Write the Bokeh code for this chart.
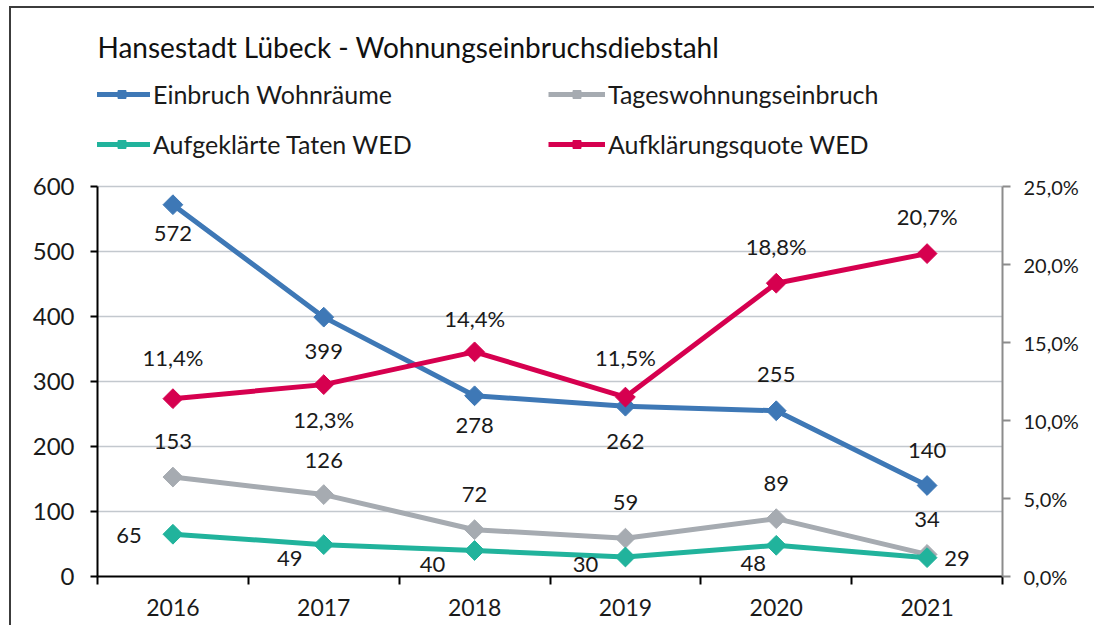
from bokeh.plotting import figure
from bokeh.models import Range1d, LinearAxis, FixedTicker, Legend, LegendItem, Label
from bokeh.core.properties import value
from bokeh.embed import file_html
from bokeh.resources import INLINE

# ---- data ----
chart_title = "Hansestadt Lübeck - Wohnungseinbruchsdiebstahl"
years = ["2016", "2017", "2018", "2019", "2020", "2021"]
einbruch = [572, 399, 278, 262, 255, 140]
tages = [153, 126, 72, 59, 89, 34]
aufgeklaert = [65, 49, 40, 30, 48, 29]
quote = [11.4, 12.3, 14.4, 11.5, 18.8, 20.7]
series_names = ["Einbruch Wohnräume", "Tageswohnungseinbruch",
                "Aufgeklärte Taten WED", "Aufklärungsquote WED"]
left_ticks = [0, 100, 200, 300, 400, 500, 600]
right_ticks = [0, 5, 10, 15, 20, 25]
LEFT_MAX = 600
RIGHT_MAX = 25

# ---- layout / styles (pixels) ----
FONT = "Lato"
FS = "22px"
colors = ["#3e78b6", "#a6abb1", "#21b39c", "#d6004f"]
off_einbruch = ([0] * 6, [29, 34, 30, 35, -36, -35])
off_tages = ([0] * 6, [-36, -34, -35, -36, -35, -35])
off_aufg = ([-44, -34, -42, -40, -23, 30], [1, 14, 14, 7, 18, 1])
off_quote = ([0] * 6, [-41, 35, -33, -40, -37, -37])

AXIS_H = 390      # pixel height of the value axes
FRAME_H = 568     # frame reaches up to the top so title/legend sit inside it
scale = FRAME_H / AXIS_H

def pct(v):
    return f"{v:.1f}".replace(".", ",") + "%"

xs = list(range(len(years)))

p = figure(width=1085, height=619,
           x_range=Range1d(-0.5, len(years) - 0.5), y_range=Range1d(0, LEFT_MAX * scale),
           output_backend="svg", toolbar_location=None, title_location=None,
           min_border_left=86, min_border_right=94, min_border_top=0, min_border_bottom=51,
           outline_line_color=None, background_fill_color="white", border_fill_color="white")
p.styles = {"border-top": "2px solid #3c3c3c", "border-left": "2px solid #3c3c3c",
            "margin-left": "9px", "margin-top": "6px"}
p.extra_y_ranges = {"pct": Range1d(0, RIGHT_MAX * scale)}

# x axis
xa = p.xaxis[0]
xa.ticker = FixedTicker(ticks=xs, minor_ticks=[x - 0.5 for x in xs] + [xs[-1] + 0.5])
xa.major_label_overrides = {x: y for x, y in zip(xs, years)}
xa.major_tick_line_color = None
xa.major_tick_out = 0
xa.major_tick_in = 0
xa.minor_tick_line_color = "black"
xa.minor_tick_line_width = 2
xa.minor_tick_out = 8
xa.minor_tick_in = 0
xa.axis_line_color = "black"
xa.axis_line_width = 2
xa.major_label_standoff = 14
xa.major_label_text_font = FONT
xa.major_label_text_font_size = "23px"
xa.major_label_text_color = "#1a1a1a"

# left axis
ya = p.yaxis[0]
ya.ticker = FixedTicker(ticks=left_ticks)
ya.bounds = (0, LEFT_MAX)
ya.axis_line_color = "black"
ya.axis_line_width = 2
ya.major_tick_line_color = "black"
ya.major_tick_line_width = 2
ya.major_tick_out = 7
ya.major_tick_in = 0
ya.minor_tick_line_color = None
ya.major_label_standoff = 16
ya.major_label_text_font = FONT
ya.major_label_text_font_size = "24px"
ya.major_label_text_color = "#1a1a1a"

# right axis
ra = LinearAxis(y_range_name="pct", ticker=FixedTicker(ticks=right_ticks),
                major_label_overrides={t: pct(t) for t in right_ticks},
                bounds=(0, RIGHT_MAX))
ra.axis_line_color = "#8c8c8c"
ra.axis_line_width = 2
ra.major_tick_line_color = "#8c8c8c"
ra.major_tick_line_width = 2
ra.major_tick_out = 8
ra.major_tick_in = 0
ra.minor_tick_line_color = None
ra.major_label_standoff = 13
ra.major_label_text_font = FONT
ra.major_label_text_font_size = "20px"
ra.major_label_text_color = "#1a1a1a"
p.add_layout(ra, "right")

# grid
p.xgrid.visible = False
p.ygrid.ticker = FixedTicker(ticks=left_ticks)
p.ygrid.bounds = (0, LEFT_MAX)
p.ygrid.grid_line_color = "#c3c8ce"
p.ygrid.grid_line_width = 1.5

items = []
series = [(einbruch, "default", off_einbruch, str),
          (tages, "default", off_tages, str),
          (aufgeklaert, "default", off_aufg, str),
          (quote, "pct", off_quote, pct)]
for (vals, rng, offs, fmt), name, col in zip(series, series_names, colors):
    lr = p.line(xs, vals, line_color=col, line_width=5, y_range_name=rng)
    sr = p.scatter(xs, vals, marker="square", angle=0.785398, size=14,
                   fill_color=col, line_color=col, y_range_name=rng)
    items.append(LegendItem(label=name, renderers=[lr, sr]))

for (vals, rng, offs, fmt) in series:
    p.text(xs, vals, text=[fmt(v) for v in vals], x_offset=offs[0], y_offset=offs[1],
           text_align="center", text_baseline="middle", text_font=value(FONT),
           text_font_size=FS, text_color="#1a1a1a", y_range_name=rng)

legend = Legend(items=items, location=(-4, 417), orientation="horizontal", ncols=2,
                glyph_width=57, glyph_height=20, label_height=30, label_width=375,
                label_standoff=3, spacing=20, padding=0, margin=0,
                border_line_color=None, background_fill_alpha=0,
                label_text_font=FONT, label_text_font_size="25px", label_text_color="#1a1a1a")
p.add_layout(legend, "center")

px_per_unit = AXIS_H / LEFT_MAX
p.add_layout(Label(x=-0.5, y=LEFT_MAX + (186 - 46) / px_per_unit, text=chart_title,
                   text_font=FONT, text_font_size="28px", text_color="#111111",
                   text_baseline="middle", text_align="left"))

open("out.html", "w").write(file_html(p, INLINE))
